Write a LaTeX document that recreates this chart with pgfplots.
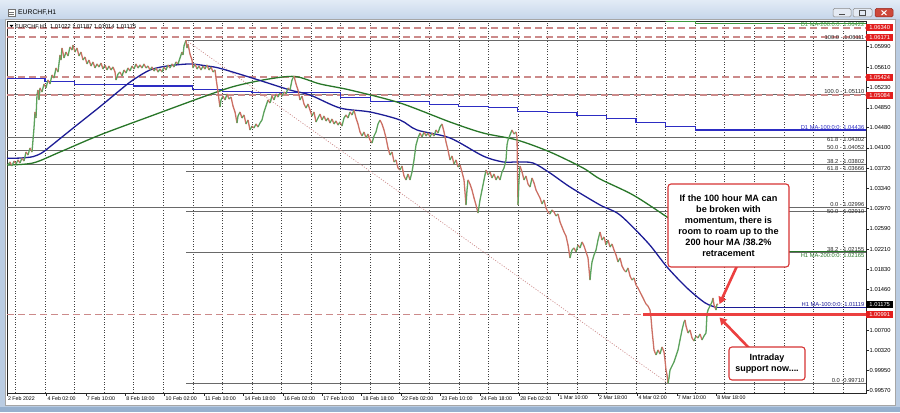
\documentclass[border=0pt]{standalone}
\usepackage{pgfplots}
\pgfplotsset{compat=1.18}
\usepackage{pgfplotstable}
\usepackage{fontspec}
\setmainfont{Liberation Sans}
\usetikzlibrary{arrows.meta}
\newcommand\fs[1]{\fontsize{#1}{#1}\selectfont}
\definecolor{framec}{RGB}{186,204,226}
\definecolor{framebot}{RGB}{150,176,206}
\definecolor{tbtop}{RGB}{226,235,246}
\definecolor{tbbot}{RGB}{198,214,234}
\definecolor{btnc}{RGB}{228,234,243}
\definecolor{closeb}{RGB}{150,40,30}
\definecolor{closef}{RGB}{205,72,58}
\definecolor{dashc}{RGB}{204,138,138}
\definecolor{fibc}{RGB}{105,105,105}
\definecolor{hma}{RGB}{28,28,150}
\definecolor{dma}{RGB}{45,45,195}
\definecolor{hmag}{RGB}{40,118,40}
\definecolor{dmag}{RGB}{60,150,60}
\definecolor{lblred}{RGB}{226,30,30}
\definecolor{annred}{RGB}{236,64,64}
\definecolor{boxred}{RGB}{214,52,52}

\pgfplotstableread{
x p c
8 1.03783 1
10 1.03839 0
12 1.03764 1
14 1.03857 0
16 1.03801 1
18 1.03876 0
20 1.03820 1
22 1.03914 0
24 1.03857 1
26 1.04025 0
28 1.03969 1
30 1.04100 0
32 1.04025 1
33 1.04249 1
34 1.04473 1
35 1.04772 0
36 1.04660 1
37 1.05089 1
38 1.05182 0
39 1.04996 1
40 1.05220 0
42 1.05145 1
44 1.05295 0
46 1.05220 1
48 1.05369 0
50 1.05295 1
52 1.05462 0
54 1.05407 1
56 1.05593 0
58 1.05518 1
60 1.05836 0
61 1.05742 1
62 1.05966 0
64 1.05780 1
66 1.05891 0
68 1.05817 1
70 1.05985 0
72 1.05929 1
73 1.06022 0
75 1.05891 1
77 1.05966 0
79 1.05817 1
81 1.05891 0
83 1.05742 1
85 1.05798 0
87 1.05668 1
89 1.05742 0
91 1.05630 1
93 1.05705 0
95 1.05593 1
97 1.05668 0
99 1.05612 1
101 1.05686 0
103 1.05574 1
105 1.05649 0
107 1.05556 1
109 1.05630 0
111 1.05556 1
113 1.05612 0
115 1.05518 0
116 1.05369 1
117 1.05425 1
118 1.05481 1
120 1.05518 0
122 1.05444 1
124 1.05556 0
126 1.05500 1
128 1.05593 0
130 1.05537 1
132 1.05630 0
134 1.05574 1
136 1.05668 0
138 1.05593 1
140 1.05649 0
142 1.05593 1
144 1.05668 0
146 1.05593 1
148 1.05630 0
150 1.05556 1
152 1.05612 0
154 1.05537 1
156 1.05593 0
158 1.05518 1
160 1.05574 0
162 1.05518 1
164 1.05612 0
166 1.05556 1
168 1.05649 0
170 1.05593 1
172 1.05668 0
174 1.05612 1
176 1.05705 0
178 1.05668 1
180 1.05780 1
182 1.05891 0
183 1.05836 1
184 1.06004 1
186 1.06111 0
187 1.05966 1
188 1.06041 0
190 1.05854 0
192 1.05742 0
193 1.05593 1
195 1.05668 0
197 1.05574 1
199 1.05630 0
201 1.05556 1
203 1.05630 0
205 1.05574 1
207 1.05649 0
209 1.05556 1
211 1.05612 0
213 1.05518 1
215 1.05556 0
216 1.05407 0
218 1.05145 0
219 1.04996 0
220 1.04865 1
221 1.04996 1
223 1.05070 0
225 1.04996 1
227 1.05108 0
229 1.05014 1
231 1.05052 0
233 1.04884 0
235 1.04772 0
237 1.04566 1
238 1.04697 1
240 1.04772 0
242 1.04660 1
244 1.04716 0
246 1.04548 1
248 1.04622 0
250 1.04436 1
252 1.04510 0
254 1.04473 1
256 1.04548 0
258 1.04492 1
260 1.04566 1
262 1.04622 1
264 1.04772 1
266 1.04884 1
268 1.04996 0
270 1.04940 1
272 1.05070 0
274 1.04996 1
276 1.05108 0
278 1.05052 1
280 1.05126 0
282 1.05070 1
284 1.05145 0
286 1.05108 1
288 1.05220 0
290 1.05182 1
292 1.05369 1
294 1.05444 0
296 1.05295 0
298 1.05182 0
300 1.04996 1
302 1.05070 0
304 1.04921 0
306 1.04846 1
308 1.04921 0
310 1.04809 0
312 1.04697 1
314 1.04772 0
316 1.04585 1
318 1.04660 1
320 1.04734 0
322 1.04622 1
324 1.04697 0
326 1.04604 1
328 1.04660 0
330 1.04566 1
332 1.04641 0
334 1.04548 1
336 1.04604 0
338 1.04529 1
340 1.04585 0
342 1.04510 1
344 1.04660 1
346 1.04716 0
348 1.04660 1
350 1.04772 0
352 1.04716 1
354 1.04809 0
356 1.04660 0
358 1.04548 0
360 1.04399 0
362 1.04324 1
364 1.04399 0
366 1.04287 1
368 1.04361 0
370 1.04249 0
372 1.04193 1
374 1.04324 1
376 1.04399 1
378 1.04548 1
380 1.04622 0
382 1.04548 0
384 1.04436 0
386 1.04287 0
388 1.04100 0
390 1.03969 1
392 1.04025 0
394 1.03839 1
396 1.03876 0
398 1.03727 0
400 1.03689 1
402 1.03764 0
404 1.03577 0
406 1.03503 1
408 1.03615 0
410 1.03503 1
412 1.03652 1
414 1.03876 1
416 1.04156 1
418 1.04287 1
420 1.04380 0
422 1.04305 1
424 1.04399 0
426 1.04324 1
428 1.04380 0
430 1.04305 1
432 1.04380 0
434 1.04324 1
436 1.04436 0
438 1.04380 1
440 1.04492 1
442 1.04548 0
444 1.04399 0
446 1.04212 0
448 1.04062 0
450 1.03876 1
452 1.03951 0
454 1.03801 1
456 1.03876 0
458 1.03745 1
460 1.03783 0
462 1.03652 0
464 1.03503 0
466 1.03036 1
467 1.03316 1
468 1.03503 0
470 1.03428 0
472 1.03316 0
474 1.03167 0
476 1.03036 0
478 1.02887 1
480 1.03129 1
482 1.03316 1
484 1.03503 1
486 1.03689 0
488 1.03596 1
490 1.03652 0
492 1.03540 1
494 1.03615 0
496 1.03503 1
498 1.03577 0
500 1.03503 1
502 1.03652 1
504 1.03727 1
506 1.03876 1
507 1.04156 1
508 1.04249 1
510 1.04342 1
512 1.04436 0
514 1.04361 1
516 1.04399 0
517 1.04305 0
518 1.03036 1
519 1.03503 1
520 1.03764 0
522 1.03652 0
524 1.03503 1
526 1.03577 0
528 1.03428 0
530 1.03372 1
532 1.03540 0
534 1.03447 0
536 1.03316 0
538 1.03241 0
540 1.03167 0
542 1.03055 1
544 1.03129 0
546 1.02980 0
548 1.02905 0
550 1.02868 1
552 1.02943 0
554 1.02905 0
556 1.02831 1
558 1.02868 0
560 1.02719 0
562 1.02626 0
564 1.02532 0
566 1.02457 0
568 1.02290 0
570 1.02047 1
572 1.02196 1
574 1.02234 0
576 1.02159 1
578 1.02290 0
580 1.02234 1
582 1.02346 0
584 1.02271 0
586 1.02159 0
588 1.02047 0
590 1.01636 1
591 1.01823 1
592 1.01972 1
594 1.02103 1
596 1.02196 1
598 1.02383 1
600 1.02532 0
602 1.02383 1
604 1.02439 0
606 1.02290 1
608 1.02383 0
610 1.02252 1
612 1.02308 0
614 1.02196 0
616 1.02103 0
618 1.01972 1
620 1.02047 0
622 1.01898 0
624 1.01823 0
626 1.01786 1
628 1.01860 0
630 1.01711 0
632 1.01636 1
634 1.01674 0
636 1.01543 0
638 1.01487 0
640 1.01412 0
642 1.01338 0
644 1.01263 0
646 1.01188 0
648 1.01151 0
650 1.01076 0
651 1.00927 0
652 1.00703 0
653 1.00517 0
654 1.00330 0
656 1.00237 1
658 1.00330 0
660 1.00255 1
662 1.00386 0
664 1.00293 0
665 1.00143 0
666 0.99956 0
667 0.99863 0
668 0.99710 1
669 0.99807 1
670 0.99956 1
672 1.00031 1
674 1.00106 1
676 1.00218 1
678 1.00330 1
680 1.00517 1
682 1.00703 1
684 1.00853 1
685 1.00890 0
686 1.00778 0
688 1.00647 1
690 1.00703 0
692 1.00554 0
694 1.00498 1
696 1.00591 0
698 1.00554 1
700 1.00629 0
702 1.00517 1
704 1.00591 1
706 1.00647 1
707 1.01002 1
708 1.01076 1
710 1.01151 1
712 1.01226 1
713 1.01300 0
714 1.01170 0
716 1.01076 1
717 1.01188 0
718 1.01175 0
}\pricedata

\begin{document}
\begin{tikzpicture}[x=1bp,y=1bp]
\useasboundingbox (0,0) rectangle (900,412);
% window frame
\fill[framec] (0,0) rectangle (900,412);
\shade[top color=tbtop, bottom color=tbbot] (0,393) rectangle (900,412);
\fill[white] (5,7) rectangle (895,393);
\draw[black!35, line width=0.5bp] (5,7) rectangle (895,393);
\fill[framebot] (0,0) rectangle (900,5);
% title bar
\draw[black!55, fill=white, line width=0.5bp] (8,396) rectangle (15,403);
\draw[black!55, line width=0.4bp] (9,398) -- (14,398) (9,400) -- (14,400);
\node[anchor=west, inner sep=0pt, font={\fs{6.8}}] at (18,399.5) {EURCHF,H1};
\draw[black!45, fill=btnc, rounded corners=1.5bp, line width=0.5bp] (833,395) rectangle (851,403.5);
\draw[black!70, line width=1bp] (839,397.5) -- (845,397.5);
\draw[black!45, fill=btnc, rounded corners=1.5bp, line width=0.5bp] (853,395) rectangle (872,403.5);
\draw[black!70, line width=0.6bp] (859.5,397) rectangle (865.5,401.5);
\draw[closeb, fill=closef, rounded corners=1.5bp, line width=0.5bp] (875,395) rectangle (893,403.5);
\draw[white, line width=1bp] (881.5,397) -- (886.5,401.5) (881.5,401.5) -- (886.5,397);

\begin{axis}[
  at={(7bp,19bp)}, anchor=south west,
  width=859bp, height=372bp, scale only axis,
  xmin=7, xmax=866, ymin=0.99527, ymax=1.06470,
  clip=false,
  axis line style={black!85, line width=0.5bp},
  scaled y ticks=false,
  ytick={0.99570,0.99950,1.00320,1.00700,1.01460,1.01830,1.02210,1.02590,1.02970,1.03340,1.03720,1.04100,1.04480,1.04850,1.05230,1.05610,1.05990},
  ytick pos=right, yticklabel pos=right,
  yticklabel style={font={\fs{5.8}}, inner sep=1bp, /pgf/number format/fixed, /pgf/number format/fixed zerofill, /pgf/number format/precision=5, /pgf/number format/assume math mode=true},
  xtick={7,46.4,85.8,125.2,164.6,204,243.4,282.8,322.2,361.6,401,440.4,479.8,519.2,558.6,598,637.4,676.8,716.2},
  xticklabels={2 Feb 2022,4 Feb 02:00,7 Feb 10:00,8 Feb 18:00,10 Feb 02:00,11 Feb 10:00,14 Feb 18:00,16 Feb 02:00,17 Feb 10:00,18 Feb 18:00,22 Feb 02:00,23 Feb 10:00,24 Feb 18:00,28 Feb 02:00,1 Mar 10:00,2 Mar 18:00,4 Mar 02:00,7 Mar 10:00,8 Mar 18:00},
  xtick pos=bottom,
  xticklabel style={anchor=north west, font={\fs{5.3}}, inner sep=0.6bp, xshift=0.3bp},
  tick align=outside, major tick length=2.5bp,
  tick style={black!85, line width=0.5bp},
  extra x ticks={15.5,45.05,74.6,104.15,133.7,163.25,192.8,222.35,251.9,281.45,311,340.55,370.1,399.65,429.2,458.75,488.3,517.85,547.4,576.95,606.5,636.05,665.6,695.15,724.7,754.25,783.8,813.35,842.9},
  extra x tick labels={},
  extra x tick style={major tick length=0pt, grid=major, major grid style={black!75, line width=0.5bp, dash pattern=on 1bp off 1.6bp}},
  colormap={candles}{rgb255=(204,112,100) rgb255=(92,162,92)},
  point meta min=0, point meta max=1,
]
% Fibonacci retracement B (full width)
\addplot[fibc, line width=0.7bp] coordinates {(7,1.05110) (866,1.05110)};
\addplot[fibc, line width=0.7bp] coordinates {(7,1.04302) (866,1.04302)};
\addplot[fibc, line width=0.7bp] coordinates {(7,1.04052) (866,1.04052)};
\addplot[fibc, line width=0.7bp] coordinates {(7,1.03802) (866,1.03802)};
\addplot[fibc, line width=0.7bp] coordinates {(7,1.02996) (866,1.02996)};
% Fibonacci retracement A (from the 10 Feb high)
\addplot[fibc, line width=0.7bp] coordinates {(186,1.06111) (866,1.06111)};
\addplot[fibc, line width=0.7bp] coordinates {(186,1.03666) (866,1.03666)};
\addplot[fibc, line width=0.7bp] coordinates {(186,1.02910) (866,1.02910)};
\addplot[fibc, line width=0.7bp] coordinates {(186,1.02155) (866,1.02155)};
\addplot[fibc, line width=0.7bp] coordinates {(186,0.99710) (866,0.99710)};
\addplot[dashc, line width=0.7bp, dash pattern=on 1bp off 1.6bp] coordinates {(186,1.06111) (668,0.99710)};
% horizontal levels
\addplot[dashc, line width=1.6bp, dash pattern=on 7bp off 4bp] coordinates {(7,1.06340) (866,1.06340)};
\addplot[dashc, line width=1.6bp, dash pattern=on 7bp off 4bp] coordinates {(7,1.06171) (866,1.06171)};
\addplot[dashc, line width=1.6bp, dash pattern=on 7bp off 4bp] coordinates {(7,1.05424) (866,1.05424)};
\addplot[dashc, line width=1.6bp, dash pattern=on 7bp off 4bp] coordinates {(7,1.05084) (866,1.05084)};
\addplot[dashc, line width=1.6bp, dash pattern=on 7bp off 4bp] coordinates {(7,1.00991) (866,1.00991)};
% D1 MA-100 (step) and D1 MA-200
\addplot[dma, line width=1.2bp, const plot] coordinates {(7,1.05399) (45.05,1.05348) (74.6,1.05287) (133.7,1.05255) (192.8,1.05193) (222.35,1.05161) (251.9,1.05131) (340.55,1.05043) (370.1,1.04974) (429.2,1.04912) (458.75,1.04881) (488.3,1.04851) (517.85,1.04787) (547.4,1.04757) (576.95,1.04707) (606.5,1.04645) (636.05,1.04570) (665.6,1.04507) (695.15,1.04436) (866,1.04436)};
\addplot[dmag, line width=1.2bp, const plot] coordinates {(665.6,1.06462) (695.15,1.06420) (866,1.06420)};
% H1 MA-200
\addplot[hmag, line width=1.3bp, smooth] coordinates {(7,1.03783) (33,1.03820) (60,1.04025) (100,1.04343) (150,1.04690) (200,1.05033) (233,1.05244) (267,1.05382) (295,1.05434) (320,1.05295) (350,1.05182) (400,1.04940) (450,1.04585) (483,1.04380) (517,1.04249) (550,1.04025) (583,1.03727) (600,1.03521) (633,1.03223) (667,1.02812) (718,1.02165)};
\addplot[hmag, line width=1.3bp] coordinates {(718,1.02165) (866,1.02165)};
% H1 MA-100
\addplot[hma, line width=1.3bp, smooth] coordinates {(7,1.03908) (20,1.03912) (33,1.03938) (42,1.04010) (50,1.04124) (75,1.04500) (100,1.04871) (120,1.05180) (133,1.05369) (150,1.05556) (167,1.05630) (190,1.05668) (207,1.05630) (220,1.05587) (253,1.05401) (290,1.05182) (310,1.05089) (340,1.04846) (370,1.04772) (400,1.04622) (417,1.04436) (450,1.04287) (483,1.03951) (503,1.03839) (517,1.03839) (533,1.03820) (550,1.03633) (570,1.03372) (600,1.03036) (620,1.02849) (648,1.02327) (667,1.01879) (687,1.01487) (705,1.01210) (717,1.01119)};
\addplot[hma, line width=1.3bp] coordinates {(717,1.01119) (866,1.01119)};
% price (hourly candles as coloured path)
\addplot[mesh, shader=flat corner, point meta=explicit, line width=1.3bp] table[x=x, y=p, meta=c] {\pricedata};
% drawn support line
\addplot[annred, line width=2.6bp] coordinates {(643,1.00991) (866,1.00991)};

% right-side texts of the objects
\tikzset{fibl/.style={font={\fs{5.8}}, inner sep=0.5bp, text=black!85}}
\node[fibl, anchor=south east] at (axis cs:865,1.06111) {100.0 - 1.06111};
\node[fibl, anchor=south east] at (axis cs:865,1.05110) {100.0 - 1.05110};
\node[fibl, anchor=south east, text=dma] at (axis cs:865,1.04436) {D1 MA-100:0:0: 1.04436};
\node[fibl, anchor=north east] at (axis cs:865,1.04302) {61.8 - 1.04302};
\node[fibl, anchor=south east] at (axis cs:865,1.04052) {50.0 - 1.04052};
\node[fibl, anchor=south east] at (axis cs:865,1.03802) {38.2 - 1.03802};
\node[fibl, anchor=south east] at (axis cs:865,1.03666) {61.8 - 1.03666};
\node[fibl, anchor=south east] at (axis cs:865,1.02996) {0.0 - 1.02996};
\node[fibl, anchor=east] at (axis cs:865,1.02910) {50.0 - 1.02910};
\node[fibl, anchor=south east] at (axis cs:865,1.02155) {38.2 - 1.02155};
\node[fibl, anchor=north east, text=hmag] at (axis cs:865,1.02150) {H1 MA-200:0:0: 1.02165};
\node[fibl, anchor=south east, text=hma] at (axis cs:865,1.01119) {H1 MA-100:0:0: 1.01119};
\node[fibl, anchor=south east] at (axis cs:865,0.99710) {0.0 -0.99710};
\node[fibl, anchor=north east, text=dmag] at (axis cs:865,1.06465) {D1 MA-200:0:0: 1.06422};
% price boxes on the scale
\tikzset{pbox/.style={anchor=west, text=white, inner sep=0.7bp, font={\fs{5.8}}, minimum height=7bp, minimum width=27bp}}
\node[pbox, fill=lblred] at (axis cs:866,1.06340) {1.06340};
\node[pbox, fill=lblred] at (axis cs:866,1.06171) {1.06171};
\node[pbox, fill=lblred] at (axis cs:866,1.05424) {1.05424};
\node[pbox, fill=lblred] at (axis cs:866,1.05084) {1.05084};
\node[pbox, fill=black] at (axis cs:866,1.01175) {1.01175};
\node[pbox, fill=lblred] at (axis cs:866,1.00991) {1.00991};
% symbol line
\node[anchor=west, inner sep=0pt, font={\fs{5.7}}] at (axis cs:15,1.06352) {EURCHF,H1\ \ 1.01022 1.01187 1.01014 1.01175};
\end{axis}
\fill[black] (9.5,387.2) -- (13.5,387.2) -- (11.5,384.6) -- cycle;

% annotations
\draw[annred, line width=2.6bp, -{Triangle[length=7bp,width=8bp]}] (737,146) -- (719.5,108);
\draw[annred, line width=2.6bp, -{Triangle[length=7bp,width=8bp]}] (750,63) -- (719.5,94.5);
\draw[boxred, line width=1.1bp, fill=white, rounded corners=3bp] (668,145) rectangle (789,228);
\node[align=center, font={\bfseries\fontsize{9.2}{11}\selectfont}] at (728.5,186.5) {If the 100 hour MA can\\be broken with\\momentum, there is\\room to roam up to the\\200 hour MA /38.2\%\\retracement};
\draw[boxred, line width=1.1bp, fill=white, rounded corners=3bp] (729,32) rectangle (805,65);
\node[align=center, font={\bfseries\fontsize{9}{10.5}\selectfont}] at (767,48.5) {Intraday\\support now....};
\end{tikzpicture}
\end{document}
